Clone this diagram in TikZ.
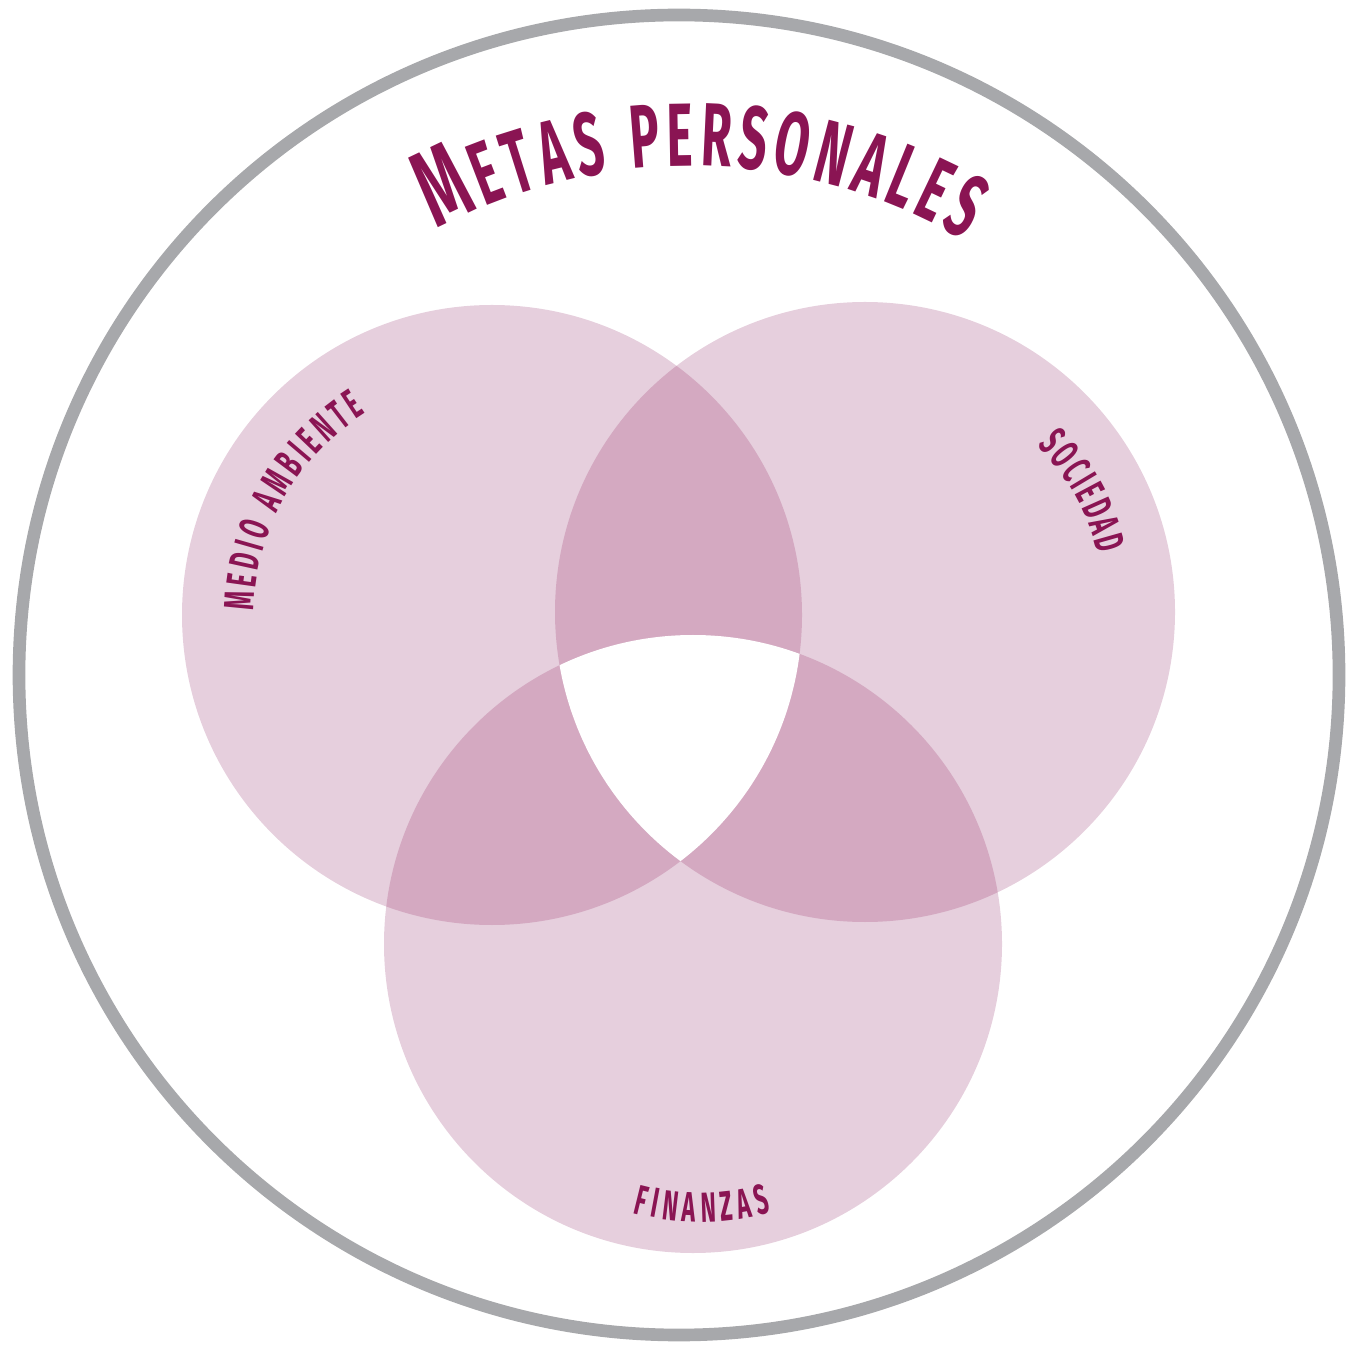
\documentclass[tikz,border=0pt]{standalone}
\usepackage{xcolor}
\usepackage{fontspec}
\newfontfamily\handfont[FakeStretch=0.55]{Fira Sans}
\usepackage{tikz}
\usetikzlibrary{decorations.text}

\definecolor{metas}{HTML}{8A1453}
\definecolor{petal}{HTML}{E6CFDD}
\definecolor{petaldark}{HTML}{D4A9C1}
\definecolor{ringgray}{HTML}{A7A8AB}

\newcommand{\titlebig}{\handfont\bfseries\fontsize{31}{34}\selectfont}
\newcommand{\titlesmall}{\handfont\bfseries\fontsize{25.5}{28}\selectfont}
\newcommand{\labelfont}{\handfont\bfseries\fontsize{12}{14}\selectfont}

\begin{document}
\begin{tikzpicture}[
    x=0.01cm,
    y=0.01cm,
    ring/.style={
        draw=ringgray,
        line width=3.6pt
    },
    petalfill/.style={
        fill=petal
    },
    arctext/.style={
        decorate,
        decoration={
            text along path,
            text align={fit to path},
            text color=metas,
            text={#1}
        }
    }
]
\useasboundingbox (0,0) rectangle (1358,1348);
% CENTRES
\coordinate (ma) at (492,733);
\coordinate (so) at (865,736);
\coordinate (fi) at (693,404);
\coordinate (top) at (690,642);
\coordinate (fin) at (700,386);
% OUTER RING
\draw [ring] (679,673) circle[radius=660];
% THREE CIRCLES
\fill [petalfill] (ma) circle[radius=310];
\fill [petalfill] (so) circle[radius=310];
\fill [petalfill] (fi) circle[radius=309];
% PAIRWISE OVERLAPS
\begin{scope}
    \clip (ma) circle[radius=310];
    \fill [petaldark] (so) circle[radius=310];
    \fill [petaldark] (fi) circle[radius=309];
\end{scope}
\begin{scope}
    \clip (so) circle[radius=310];
    \fill [petaldark] (fi) circle[radius=309];
\end{scope}
% CENTRE
\begin{scope}
    \clip (ma) circle[radius=310];
    \clip (so) circle[radius=310];
    \fill [white] (fi) circle[radius=309];
\end{scope}
% TITLE
\path [arctext={|\titlebig|M|\titlesmall|ETAS PERSONALES}]
    ([shift={(118:540)}]top) arc[start angle=118, end angle=59.5, radius=540];
% LABELS
\path [arctext={|\labelfont|MEDIO AMBIENTE}]
    ([shift={(179:238)}]ma) arc[start angle=179, end angle=122, radius=238];
\path [arctext={|\labelfont|SOCIEDAD}]
    ([shift={(44:240)}]so) arc[start angle=44, end angle=14, radius=240];
\path [arctext={|\labelfont|FINANZAS}]
    ([shift={(255:260)}]fin) arc[start angle=255, end angle=286, radius=260];
\end{tikzpicture}
\end{document}
